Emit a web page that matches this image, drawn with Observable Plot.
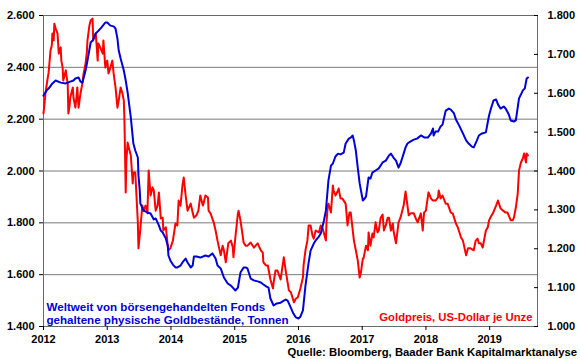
<!DOCTYPE html>
<html><head><meta charset="utf-8">
<script src="https://cdn.jsdelivr.net/npm/d3@7"></script>
<script src="https://cdn.jsdelivr.net/npm/@observablehq/plot@0.6"></script>
<style>
body{margin:0;background:#fff;}
#wrap{position:relative;width:580px;height:359px;font-family:"Liberation Sans",Arial,sans-serif;}
#caption{position:absolute;right:3px;top:346px;line-height:13px;font-size:11.3px;font-weight:bold;color:#000;white-space:nowrap;}
</style></head><body><div id="wrap"><div id="caption">Quelle: Bloomberg, Baader Bank Kapitalmarktanalyse</div></div>
<script>
// ETF gold holdings (tonnes), left axis
const blueYears = [2012.00,2012.05,2012.08,2012.14,2012.19,2012.27,2012.35,2012.42,2012.47,2012.50,2012.55,2012.58,2012.61,2012.66,2012.69,2012.74,2012.77,2012.82,2012.85,2012.91,2012.97,2013.00,2013.05,2013.10,2013.13,2013.16,2013.18,2013.21,2013.26,2013.29,2013.32,2013.37,2013.41,2013.44,2013.48,2013.49,2013.51,2013.52,2013.57,2013.63,2013.68,2013.73,2013.76,2013.81,2013.84,2013.87,2013.92,2013.95,2013.96,2013.99,2014.03,2014.07,2014.10,2014.15,2014.18,2014.23,2014.26,2014.31,2014.34,2014.36,2014.40,2014.46,2014.54,2014.59,2014.65,2014.70,2014.73,2014.78,2014.83,2014.89,2014.94,2014.98,2015.01,2015.05,2015.09,2015.14,2015.17,2015.20,2015.25,2015.30,2015.36,2015.41,2015.45,2015.50,2015.53,2015.56,2015.61,2015.66,2015.72,2015.77,2015.80,2015.83,2015.88,2015.92,2015.96,2016.00,2016.03,2016.07,2016.11,2016.16,2016.19,2016.24,2016.27,2016.32,2016.35,2016.40,2016.43,2016.47,2016.51,2016.54,2016.58,2016.62,2016.66,2016.71,2016.74,2016.79,2016.82,2016.85,2016.87,2016.90,2016.93,2016.96,2016.98,2017.01,2017.04,2017.06,2017.10,2017.13,2017.16,2017.21,2017.26,2017.32,2017.37,2017.42,2017.45,2017.49,2017.53,2017.57,2017.60,2017.65,2017.68,2017.71,2017.76,2017.81,2017.86,2017.92,2017.98,2018.03,2018.08,2018.11,2018.12,2018.15,2018.19,2018.23,2018.26,2018.31,2018.36,2018.39,2018.44,2018.47,2018.52,2018.58,2018.63,2018.67,2018.72,2018.75,2018.80,2018.83,2018.88,2018.94,2018.99,2019.02,2019.06,2019.10,2019.13,2019.17,2019.22,2019.25,2019.30,2019.33,2019.38,2019.41,2019.46,2019.49,2019.52,2019.55,2019.58,2019.60];
const blueTonnes = [2291,2311,2318,2338,2349,2341,2338,2345,2349,2357,2361,2345,2341,2388,2426,2496,2504,2531,2538,2554,2573,2573,2561,2558,2550,2511,2465,2434,2388,2349,2303,2206,2106,2079,2052,1983,1925,1874,1847,1840,1836,1813,1817,1790,1770,1763,1739,1712,1674,1655,1639,1628,1628,1635,1647,1662,1647,1628,1635,1670,1670,1666,1674,1670,1682,1662,1635,1624,1589,1566,1558,1547,1539,1550,1608,1628,1628,1624,1585,1578,1574,1570,1562,1554,1550,1508,1481,1489,1492,1500,1504,1500,1473,1450,1435,1431,1438,1462,1558,1647,1693,1720,1732,1747,1759,1809,1847,1963,2021,2029,2056,2067,2064,2071,2106,2125,2129,2137,2118,2079,2013,1952,1925,1886,1894,1902,1975,1971,1994,2002,2010,2033,2040,2060,2067,2052,2040,2013,2029,2067,2091,2106,2114,2121,2125,2137,2129,2129,2145,2164,2137,2152,2152,2172,2179,2233,2241,2237,2222,2199,2176,2145,2118,2106,2094,2091,2118,2137,2145,2149,2214,2241,2272,2276,2257,2241,2249,2241,2218,2195,2191,2195,2280,2295,2311,2318,2357,2361];

// Gold price (USD per ounce), right axis
const redYears = [2012.00,2012.02,2012.03,2012.06,2012.08,2012.09,2012.11,2012.13,2012.14,2012.16,2012.17,2012.19,2012.22,2012.24,2012.27,2012.28,2012.30,2012.31,2012.35,2012.36,2012.38,2012.39,2012.41,2012.42,2012.46,2012.47,2012.50,2012.52,2012.53,2012.55,2012.58,2012.61,2012.63,2012.66,2012.68,2012.69,2012.71,2012.72,2012.74,2012.77,2012.78,2012.82,2012.85,2012.86,2012.89,2012.93,2012.94,2012.97,2013.00,2013.02,2013.05,2013.08,2013.10,2013.13,2013.16,2013.18,2013.21,2013.24,2013.26,2013.27,2013.29,2013.30,2013.32,2013.35,2013.37,2013.40,2013.41,2013.44,2013.48,2013.49,2013.52,2013.55,2013.57,2013.60,2013.63,2013.65,2013.68,2013.71,2013.73,2013.76,2013.79,2013.81,2013.84,2013.87,2013.88,2013.92,2013.95,2013.96,2013.99,2014.03,2014.04,2014.07,2014.10,2014.12,2014.15,2014.18,2014.20,2014.23,2014.26,2014.31,2014.34,2014.36,2014.40,2014.43,2014.46,2014.50,2014.51,2014.54,2014.58,2014.59,2014.62,2014.67,2014.70,2014.73,2014.78,2014.81,2014.83,2014.86,2014.89,2014.90,2014.94,2014.97,2014.98,2015.01,2015.05,2015.06,2015.09,2015.14,2015.17,2015.20,2015.25,2015.30,2015.36,2015.41,2015.44,2015.45,2015.49,2015.52,2015.56,2015.60,2015.61,2015.64,2015.67,2015.72,2015.77,2015.80,2015.83,2015.85,2015.88,2015.93,2015.96,2015.99,2016.03,2016.07,2016.08,2016.11,2016.14,2016.16,2016.19,2016.22,2016.24,2016.27,2016.32,2016.35,2016.38,2016.43,2016.44,2016.46,2016.47,2016.51,2016.54,2016.55,2016.58,2016.62,2016.63,2016.66,2016.69,2016.74,2016.77,2016.80,2016.82,2016.87,2016.90,2016.93,2016.96,2016.98,2017.01,2017.02,2017.06,2017.09,2017.10,2017.13,2017.16,2017.18,2017.21,2017.24,2017.26,2017.29,2017.32,2017.34,2017.37,2017.40,2017.42,2017.45,2017.48,2017.49,2017.53,2017.57,2017.60,2017.65,2017.68,2017.71,2017.73,2017.76,2017.81,2017.84,2017.87,2017.92,2017.95,2017.97,2018.00,2018.01,2018.04,2018.08,2018.11,2018.15,2018.19,2018.20,2018.23,2018.26,2018.31,2018.34,2018.39,2018.42,2018.47,2018.50,2018.55,2018.58,2018.63,2018.66,2018.70,2018.75,2018.78,2018.81,2018.83,2018.86,2018.89,2018.94,2018.97,2018.99,2019.02,2019.05,2019.10,2019.13,2019.17,2019.21,2019.25,2019.28,2019.33,2019.36,2019.38,2019.41,2019.44,2019.46,2019.49,2019.52,2019.54,2019.57,2019.58,2019.60];
const redPrice = [1548,1581,1599,1633,1653,1671,1710,1723,1754,1736,1779,1767,1754,1702,1718,1684,1666,1633,1659,1646,1625,1548,1569,1589,1615,1589,1563,1594,1615,1563,1599,1625,1651,1677,1705,1736,1761,1774,1787,1792,1736,1754,1684,1728,1718,1702,1736,1666,1684,1651,1666,1684,1651,1615,1563,1581,1615,1599,1581,1530,1345,1427,1473,1453,1440,1368,1396,1396,1268,1201,1252,1311,1298,1311,1291,1401,1337,1358,1350,1298,1311,1345,1278,1280,1247,1255,1206,1196,1201,1221,1232,1265,1260,1324,1311,1363,1383,1337,1298,1316,1293,1280,1286,1298,1337,1311,1316,1337,1332,1298,1291,1268,1247,1221,1183,1208,1196,1165,1203,1214,1221,1203,1178,1229,1291,1298,1273,1216,1208,1208,1216,1203,1214,1196,1190,1165,1157,1157,1121,1098,1113,1144,1144,1121,1178,1144,1113,1093,1088,1062,1072,1075,1098,1126,1157,1196,1221,1260,1260,1234,1226,1247,1242,1260,1252,1221,1268,1311,1316,1293,1363,1350,1337,1350,1355,1329,1329,1316,1260,1293,1293,1221,1196,1170,1126,1139,1175,1175,1208,1196,1242,1208,1239,1229,1268,1242,1247,1280,1288,1247,1260,1280,1280,1247,1265,1247,1214,1268,1280,1311,1347,1311,1286,1291,1291,1278,1268,1291,1247,1293,1298,1311,1345,1329,1324,1324,1332,1350,1329,1337,1316,1316,1293,1291,1265,1255,1229,1221,1183,1201,1201,1196,1221,1226,1214,1214,1203,1247,1255,1273,1283,1291,1311,1324,1304,1298,1293,1293,1273,1273,1280,1306,1342,1401,1422,1432,1445,1422,1445,1440];

// Axis ticks
const yearTicks = [2012, 2013, 2014, 2015, 2016, 2017, 2018, 2019];
const leftTicks = [1400, 1600, 1800, 2000, 2200, 2400, 2600];
const rightTicks = [1000, 1100, 1200, 1300, 1400, 1500, 1600, 1700, 1800];

// Labels
const blueLabel = "Weltweit von börsengehandelten Fonds\ngehaltene physische Goldbestände, Tonnen";
const redLabel = "Goldpreis, US-Dollar je Unze";

const blue = blueYears.map((y, i) => ({year: y, value: blueTonnes[i]}));
const red = redYears.map((y, i) => ({year: y, value: redPrice[i]}));

// map right-axis values onto the left scale
const leftDomain = [1400, 2600];
const rightDomain = [1000, 1800];
const k = (leftDomain[1] - leftDomain[0]) / (rightDomain[1] - rightDomain[0]);
const toLeft = p => leftDomain[0] + (p - rightDomain[0]) * k;
const fromLeft = v => rightDomain[0] + (v - leftDomain[0]) / k;

const fmt = d3.formatLocale({decimal: ",", thousands: ".", grouping: [3], currency: ["", ""]}).format(",.0f");

const chart = Plot.plot({
  width: 580, height: 359,
  marginLeft: 43, marginRight: 43, marginTop: 15, marginBottom: 33,
  style: {fontFamily: "Liberation Sans, Arial, sans-serif", fontSize: "11px", fontWeight: "bold", color: "#000", background: "#fff"},
  x: {domain: [2012, 2019.75]},
  y: {domain: leftDomain},
  marks: [
    Plot.gridY(leftTicks.slice(1), {stroke: "#7a7a7a", strokeOpacity: 1}),
    Plot.frame({stroke: "#6a6a6a"}),
    Plot.axisX(yearTicks, {tickFormat: d => String(d), tickSize: 4, tickPadding: 5, fontWeight: "bold", fontSize: 11, label: null}),
    Plot.axisY(leftTicks, {anchor: "left", tickFormat: fmt, tickSize: 4, tickPadding: 5, fontWeight: "bold", fontSize: 11, label: null}),
    Plot.axisY(rightTicks.map(toLeft), {anchor: "right", tickFormat: d => fmt(fromLeft(d)), tickSize: -4, tickPadding: 14, fontWeight: "bold", fontSize: 11, label: null}),
    Plot.line(red, {x: "year", y: d => toLeft(d.value), stroke: "#ff0000", strokeWidth: 2}),
    Plot.line(blue, {x: "year", y: "value", stroke: "#0000d8", strokeWidth: 2}),
    Plot.text([blueLabel], {frameAnchor: "bottom-left", textAnchor: "start", lineAnchor: "bottom", dx: 3, dy: -3, fill: "#0000d8", fontWeight: "bold", fontSize: 11.6, lineHeight: 1.12}),
    Plot.text([redLabel], {frameAnchor: "bottom-right", textAnchor: "end", lineAnchor: "bottom", dx: -5, dy: -6, fill: "#ff0000", fontWeight: "bold", fontSize: 11.3})
  ]
});
document.getElementById("wrap").prepend(chart);
</script>
</body></html>
